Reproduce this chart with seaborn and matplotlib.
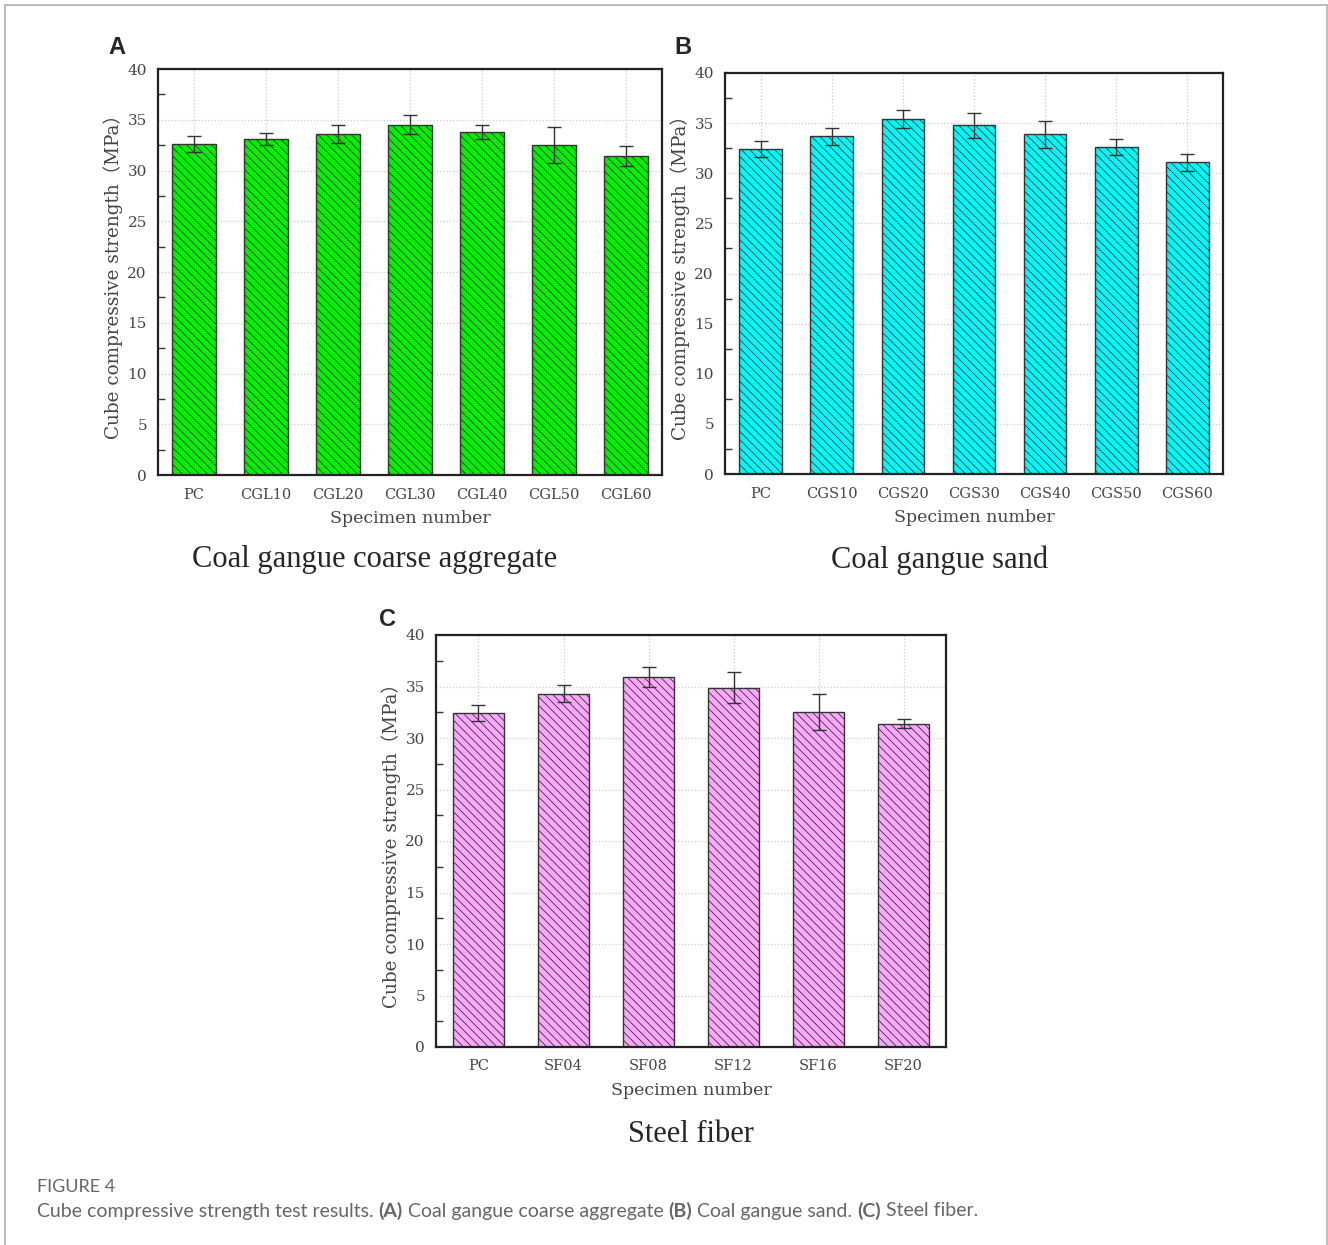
import numpy as np
import matplotlib
matplotlib.use("Agg")
import matplotlib.pyplot as plt
from matplotlib.ticker import MultipleLocator
import seaborn as sns
import pandas as pd

# ---- data ----
cgl_names = ["PC", "CGL10", "CGL20", "CGL30", "CGL40", "CGL50", "CGL60"]
cgl_mean = [32.6, 33.1, 33.6, 34.5, 33.8, 32.5, 31.4]
cgl_err = [0.8, 0.55, 0.85, 0.95, 0.65, 1.75, 1.0]

cgs_names = ["PC", "CGS10", "CGS20", "CGS30", "CGS40", "CGS50", "CGS60"]
cgs_mean = [32.4, 33.7, 35.4, 34.8, 33.9, 32.6, 31.1]
cgs_err = [0.8, 0.85, 0.93, 1.25, 1.35, 0.77, 0.85]

sf_names = ["PC", "SF04", "SF08", "SF12", "SF16", "SF20"]
sf_mean = [32.4, 34.3, 35.9, 34.9, 32.5, 31.4]
sf_err = [0.78, 0.83, 0.95, 1.5, 1.74, 0.45]

sns.set_style("white")
plt.rcParams["font.family"] = ["Liberation Serif", "Noto Sans CJK SC", "DejaVu Sans"]
plt.rcParams["hatch.linewidth"] = 0.6

LAB = ["DejaVu Serif", "Noto Sans CJK SC", "DejaVu Sans"]

W, H = 1328, 1245
fig = plt.figure(figsize=(W / 100, H / 100), dpi=100)


def px_axes(l, t, r, b):
    return fig.add_axes([l / W, 1 - b / H, (r - l) / W, (b - t) / H])


def panel(ax, names, mean, err, color, letter, subtitle, lx, ly, sx, sy):
    df = pd.DataFrame({"name": names, "value": mean})
    sns.barplot(data=df, x="name", y="value", color=color, width=0.6,
                edgecolor="#333333", linewidth=1.0, hatch="\\\\\\\\",
                saturation=1, errorbar=None, ax=ax, zorder=2)
    ax.errorbar(np.arange(len(names)), mean, yerr=err, fmt="none",
                ecolor="#333333", elinewidth=1.0, capsize=5, capthick=1.0, zorder=3)
    ax.set_ylim(0, 40)
    ax.set_xlim(-0.5, len(names) - 0.5)
    ax.yaxis.set_major_locator(MultipleLocator(5))
    ax.yaxis.set_minor_locator(MultipleLocator(2.5))
    ax.tick_params(axis="y", which="major", length=0, pad=8, labelsize=11, labelcolor="#444444")
    ax.tick_params(axis="y", which="minor", left=True, direction="in", length=5, width=1, color="#333333")
    ax.tick_params(axis="x", length=0, pad=9, labelsize=10.5, labelcolor="#444444")
    for lab in ax.get_xticklabels() + ax.get_yticklabels():
        lab.set_family(LAB)
    ax.grid(True, ls=":", color="#cccccc", lw=0.9, zorder=0)
    ax.set_axisbelow(True)
    for s in ax.spines.values():
        s.set_color("#222222")
        s.set_linewidth(1.6)
    ax.set_xlabel("Specimen number", fontsize=12.5, color="#444444", labelpad=6, family=LAB)
    ax.set_ylabel("Cube compressive strength\uff08MPa\uff09", fontsize=13.2,
                  color="#444444", labelpad=3, family=LAB)
    fig.text(lx / W, 1 - ly / H, letter, fontsize=17, fontweight="bold",
             family="Liberation Sans", ha="center", va="center")
    fig.text(sx / W, 1 - sy / H, subtitle, fontsize=22, ha="center", va="center")


axA = px_axes(158, 69, 662, 475)
panel(axA, cgl_names, cgl_mean, cgl_err, "#00f000", "A",
      "Coal gangue coarse aggregate", 117, 47, 375, 560)
axB = px_axes(725, 73, 1223, 474)
panel(axB, cgs_names, cgs_mean, cgs_err, "#00f8f8", "B",
      "Coal gangue sand", 683, 47, 940, 560)
axC = px_axes(436, 635, 946, 1047)
panel(axC, sf_names, sf_mean, sf_err, "#ffa6ff", "C",
      "Steel fiber", 387, 620, 691, 1135)

# outer frame (open at the bottom)
frame_c = "#b0b0b0"
fig.add_artist(plt.Line2D([4.5 / W, 4.5 / W], [0, 1 - 4.5 / H], color=frame_c, lw=1.2))
fig.add_artist(plt.Line2D([4.5 / W, 1326.5 / W], [1 - 4.5 / H, 1 - 4.5 / H], color=frame_c, lw=1.2))
fig.add_artist(plt.Line2D([1326.5 / W, 1326.5 / W], [0, 1 - 4.5 / H], color=frame_c, lw=1.2))

# caption
cap_c = "#666666"
fig.text(37 / W, 1 - 1187 / H, "FIGURE 4", fontsize=13, family="Lato",
         color=cap_c, va="center")

parts = [("Cube compressive strength test results. ", "normal"),
         ("(A)", "bold"), (" Coal gangue coarse aggregate ", "normal"),
         ("(B)", "bold"), (" Coal gangue sand. ", "normal"),
         ("(C)", "bold"), (" Steel fiber.", "normal")]
renderer = fig.canvas.get_renderer()
x = 37.0
for txt, wt in parts:
    t = fig.text(x / W, 1 - 1211 / H, txt, fontsize=14, family="Lato",
                 fontweight=wt, color=cap_c, va="center")
    bb = t.get_window_extent(renderer=renderer)
    x += bb.width

fig.savefig("out.png", dpi=100)
